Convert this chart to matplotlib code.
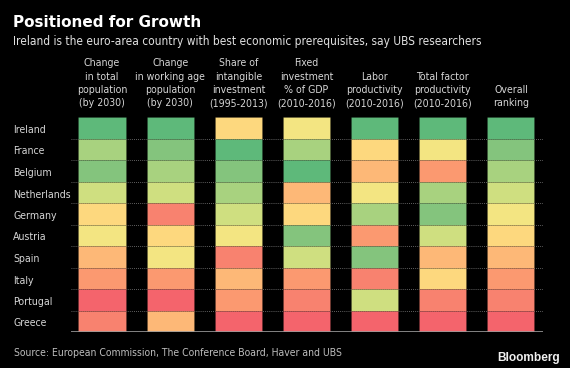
import matplotlib
matplotlib.use("Agg")
import matplotlib.pyplot as plt
from matplotlib import font_manager
from matplotlib.colors import LinearSegmentedColormap, Normalize

countries = ["Ireland", "France", "Belgium", "Netherlands", "Germany",
             "Austria", "Spain", "Italy", "Portugal", "Greece"]
columns = ["Change\nin total\npopulation\n(by 2030)",
           "Change\nin working age\npopulation\n(by 2030)",
           "Share of\nintangible\ninvestment\n(1995-2013)",
           "Fixed\ninvestment\n% of GDP\n(2010-2016)",
           "Labor\nproductivity\n(2010-2016)",
           "Total factor\nproductivity\n(2010-2016)",
           "Overall\nranking"]
# scores per column (10 = best/green, 1 = worst/red), rows follow countries
total_pop = [10, 8, 9, 7, 5, 6, 4, 3, 1, 2]
working_pop = [10, 9, 8, 7, 2, 5, 6, 3, 1, 4]
intangible = [5, 10, 9, 8, 7, 6, 2, 4, 3, 1]
fixed_inv = [6, 8, 10, 4, 5, 9, 7, 3, 2, 1]
labor_prod = [10, 5, 4, 6, 8, 3, 9, 2, 7, 1]
tfp = [10, 6, 3, 8, 9, 7, 4, 5, 2, 1]
overall = [10, 9, 8, 7, 6, 5, 4, 3, 2, 1]
series = [total_pop, working_pop, intangible, fixed_inv, labor_prod, tfp, overall]

palette = ["#f4646c", "#f8826f", "#fb9a70", "#fdb877", "#fdd87e",
           "#f3e582", "#cfdf80", "#a9d27f", "#84c47d", "#5eb97a"]
cmap = LinearSegmentedColormap.from_list("rg", palette)
norm = Normalize(1, 10)

names = {f.name for f in font_manager.fontManager.ttflist}
narrow = None
for cand in ["Liberation Sans Narrow", "DejaVu Sans Condensed"]:
    if cand in names:
        narrow = cand
        break
cond_stretch = "normal"
if narrow is None:
    narrow = "DejaVu Sans"
    if any(f.name == "DejaVu Sans" and f.stretch == "condensed" for f in font_manager.fontManager.ttflist):
        cond_stretch = "condensed"

W, H = 570, 368
fig = plt.figure(figsize=(W / 100, H / 100), dpi=100, facecolor="black")

def fx(px):
    return px / W

def fy(py):
    return 1 - py / H

top_px, bot_px = 117, 332
row_px = (bot_px - top_px) / len(countries)
ax = fig.add_axes([fx(71), fy(bot_px), fx(543) - fx(71), fy(top_px) - fy(bot_px)])
ax.set_facecolor("black")

for j, vals in enumerate(series):
    for i, v in enumerate(vals):
        ax.bar(j, 1, bottom=i, width=0.69, color=cmap(norm(v)),
               edgecolor=(0, 0, 0, 0.12), linewidth=0.6, zorder=2)

xl, xr = -0.455, 6.47
ax.set_xlim(xl, xr)
ax.set_ylim(len(countries), 0)
for k in range(1, len(countries)):
    ax.axhline(k, color="#808080", linestyle=(0, (1, 1.5)), linewidth=0.6, zorder=1)
ax.axhline(len(countries), color="#999999", linewidth=1.2, zorder=3)
for s in ax.spines.values():
    s.set_visible(False)
ax.set_xticks([])
ax.set_yticks([])

unit_x = (543 - 71) / (xr - xl)
txt_color = "#d6d6d6"
for i, c in enumerate(countries):
    ax.text(xl - 58 / unit_x, i + (133 - top_px) / row_px, c, ha="left", va="baseline",
            color=txt_color, fontsize=7.6, family=narrow, fontstretch=cond_stretch,
            clip_on=False)

for j, col in enumerate(columns):
    ax.text(j, -(top_px - 108.5) / row_px, col, ha="center", va="bottom", color=txt_color,
            fontsize=7.6, family=narrow, fontstretch=cond_stretch,
            linespacing=1.42, clip_on=False)

fig.text(fx(13), fy(27), "Positioned for Growth", color="white", fontsize=11,
         fontweight="bold", family="DejaVu Sans", va="baseline", ha="left")
fig.text(fx(13), fy(44.5), "Ireland is the euro-area country with best economic prerequisites, say UBS researchers",
         color="#e0e0e0", fontsize=8.6, family=narrow, fontstretch=cond_stretch,
         va="baseline", ha="left")
fig.text(fx(14), fy(356), "Source: European Commission, The Conference Board, Haver and UBS",
         color="#bdbdbd", fontsize=7.5, family=narrow, fontstretch=cond_stretch,
         va="baseline", ha="left")
fig.text(fx(560), fy(361), "Bloomberg", color="#f0f0f0", fontsize=8.6,
         fontweight="bold", family="Liberation Sans", va="baseline", ha="right")

fig.savefig("out.png", dpi=100, facecolor="black")
